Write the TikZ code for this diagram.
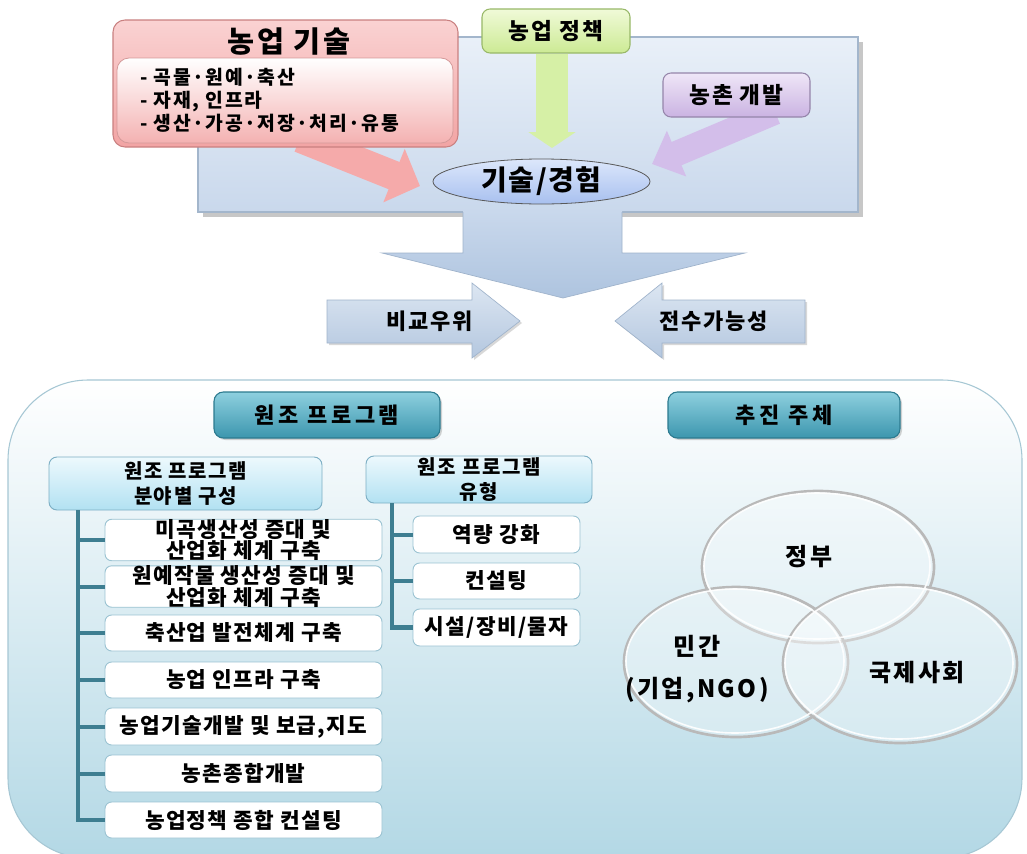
\documentclass[tikz,border=0pt]{standalone}
\usepackage{fontspec}
\setmainfont{Noto Sans CJK KR}
\usetikzlibrary{arrows.meta,shapes.geometric,shadows}
\pgfdeclarelayer{back}
\pgfdeclarelayer{mid}
\pgfsetlayers{back,mid,main}
\definecolor{panelT}{HTML}{E9F0F8}
\definecolor{panelB}{HTML}{C9D8EC}
\definecolor{panelD}{HTML}{A3B6CC}
\definecolor{pinkT}{HTML}{FAD2D2}
\definecolor{pinkB}{HTML}{F2A4A4}
\definecolor{pinkD}{HTML}{C98080}
\definecolor{pinkA}{HTML}{F5AAAA}
\definecolor{greenT}{HTML}{F0FAD8}
\definecolor{greenB}{HTML}{CCEA94}
\definecolor{greenD}{HTML}{98B868}
\definecolor{greenA}{HTML}{D6F0A6}
\definecolor{purpT}{HTML}{EFE6F7}
\definecolor{purpB}{HTML}{CAB3E2}
\definecolor{purpD}{HTML}{9585AA}
\definecolor{purpA}{HTML}{D3BEEA}
\definecolor{ellT}{HTML}{DCE7FB}
\definecolor{ellB}{HTML}{A8C0EF}
\definecolor{barT}{HTML}{C9D8EC}
\definecolor{barB}{HTML}{AEC4DF}
\definecolor{barD}{HTML}{9FB3CB}
\definecolor{sarT}{HTML}{DCE6F2}
\definecolor{sarB}{HTML}{B4C7DF}
\definecolor{btmB}{HTML}{B3D8E5}
\definecolor{btmD}{HTML}{A6C7D4}
\definecolor{hdrT}{HTML}{8ED0DF}
\definecolor{hdrB}{HTML}{3C96AE}
\definecolor{hdrD}{HTML}{2C7A8F}
\definecolor{thT}{HTML}{EDF9FD}
\definecolor{thB}{HTML}{B2E1F2}
\definecolor{thD}{HTML}{7DAFC4}
\definecolor{trunk}{HTML}{3E7E91}
\definecolor{itemD}{HTML}{9BC3D2}
\newcommand\kf[3]{\fontsize{#1}{#2}\selectfont\bfseries\addfontfeatures{LetterSpace=#3}}
\tikzset{
 sz/.style 2 args={minimum width=#1*0.75pt, minimum height=#2*0.75pt, inner sep=0pt},
 techbox/.style={draw=pinkD, line width=0.8pt, rounded corners=9pt, top color=pinkT, bottom color=pinkB},
 listbox/.style={draw=pinkD!80, line width=0.6pt, rounded corners=9pt, top color=white, bottom color=pinkB!85, align=left},
 greenbox/.style={draw=greenD, line width=0.8pt, rounded corners=6pt, top color=greenT, bottom color=greenB, font=\kf{17}{20}{8}},
 purpbox/.style={draw=purpD, line width=0.8pt, rounded corners=6pt, top color=purpT, bottom color=purpB, font=\kf{17}{20}{8}},
 expell/.style={ellipse, draw=black!65, line width=0.6pt, top color=ellT, bottom color=ellB, font=\kf{21}{24}{5}},
 barrow/.style={top color=barT, bottom color=barB},
 sarrow/.style={top color=sarT, bottom color=sarB, draw=barD, line width=0.5pt, drop shadow={opacity=0.3, shadow xshift=1.5pt, shadow yshift=-1.5pt}},
 stext/.style={font=\kf{16.5}{19}{8}},
 hdr/.style={draw=hdrD, rounded corners=7pt, top color=hdrT, bottom color=hdrB, line width=0.8pt, font=\kf{16.5}{19}{16}, drop shadow={opacity=0.35, shadow xshift=1.5pt, shadow yshift=-1.5pt}},
 thdr/.style={draw=thD, rounded corners=6pt, top color=thT, bottom color=thB, line width=0.7pt, align=center, font=\kf{15}{19}{8}},
 item/.style={draw=itemD, fill=white, rounded corners=5pt, line width=0.7pt, align=center, font=\kf{16}{13.5}{6}},
 trunkline/.style={draw=trunk, line width=3.5pt},
 branch/.style={draw=trunk, line width=3pt},
 glass/.style={ellipse, draw=gray!55, line width=2pt, fill=white, fill opacity=0.3},
 glassin/.style={ellipse, draw=white, line width=1.2pt, opacity=0.9},
 ctext/.style={font=\kf{18}{31.5}{10}, align=center},
}
\begin{document}
\begin{tikzpicture}[x=0.75pt,y=-0.75pt]
\useasboundingbox (0,0) rectangle (1027,853);
\clip (0,0) rectangle (1027,853);
\begin{pgfonlayer}{back}
 \fill[white] (0,0) rectangle (1027,853);
 \fill[black!22] (203,42) rectangle (863,217);
 \shade[top color=panelT,bottom color=panelB,draw=panelD,line width=.8pt] (198,37) rectangle (858,212);
 \shade[barrow] (463,211) -- (622,211) -- (622,253) -- (745,253) -- (563,298) -- (382,253) -- (463,253) -- cycle;
 \draw[barD,line width=.5pt] (463,212) -- (463,253) -- (382,253) -- (563,298) -- (745,253) -- (622,253) -- (622,212);
 \shade[top color=white, bottom color=btmB, draw=btmD, line width=.8pt, rounded corners=60pt] (8,380) rectangle (1022,858);
\end{pgfonlayer}

% top boxes
\node[techbox, sz={345}{127}] (tech) at (285.5,83.5) {};
\node[font=\kf{22}{24}{10}] (techtitle) at (289,42) {농업 기술};
\node[listbox, sz={336}{85}, text width=217.5pt, font=\kf{14.5}{17.3}{8}] (techlist) at (285,100.5) {- 곡물·원예·축산\\- 자재, 인프라\\- 생산·가공·저장·처리·유통};
\node[greenbox, sz={148}{44}] (policy) at (556,31) {농업 정책};
\node[purpbox, sz={147}{44}] (rural) at (736.5,95) {농촌 개발};
\node[expell, sz={217}{45}] (exp) at (541.5,181.5) {기술/경험};

\coordinate (redtail) at (300,138);
\coordinate (redtip) at (420,186);
\coordinate (greentip) at (552,148);
\coordinate (purptail) at (775,112);
\coordinate (purptip) at (652,164);
\begin{pgfonlayer}{mid}
 \draw[line width=22pt, draw=pinkA, -{Triangle[width=42pt,length=21pt]}] (redtail) -- (redtip);
 \draw[line width=24pt, draw=greenA, -{Triangle[width=35pt,length=12pt]}] (policy.south -| greentip) -- (greentip);
 \draw[line width=19pt, draw=purpA, -{Triangle[width=36pt,length=20pt]}] (purptail) -- (purptip);
\end{pgfonlayer}

% side arrows
\shade[sarrow] (327,300) -- (472,300) -- (472,283) -- (520,321) -- (472,358) -- (472,343) -- (327,343) -- cycle;
\shade[sarrow] (805,300) -- (662,300) -- (662,283) -- (615,321) -- (662,358) -- (662,343) -- (805,343) -- cycle;
\node[stext] (cmp) at (430,321) {비교우위};
\node[stext] (trans) at (714,321) {전수가능성};

% headers
\node[hdr, sz={226}{46}] (aidh) at (327,415) {원조 프로그램};
\node[hdr, sz={232}{46}] (acth) at (784,415) {추진 주체};

% tree 1
\node[thdr, sz={273}{53}] (fh) at (185.5,483.5) {원조 프로그램\\분야별 구성};
\node[item, sz={277}{36}] (i1) at (243.5,540) {미곡생산성 증대 및\\산업화 체계 구축};
\node[item, sz={277}{37}] (i2) at (243.5,586.5) {원예작물 생산성 증대 및\\산업화 체계 구축};
\node[item, sz={277}{36}] (i3) at (243.5,633) {축산업 발전체계 구축};
\node[item, sz={277}{36}] (i4) at (243.5,680) {농업 인프라 구축};
\node[item, sz={277}{37}] (i5) at (243.5,726.5) {농업기술개발 및 보급,지도};
\node[item, sz={277}{37}] (i6) at (243.5,773.5) {농촌종합개발};
\node[item, sz={277}{36}] (i7) at (243.5,820) {농업정책 종합 컨설팅};
\coordinate (ft) at (78,510);
\draw[trunkline] (fh.south -| ft) |- (i7.west);
\foreach \k in {1,...,6} \draw[branch] (ft |- i\k.west) -- (i\k.west);

% tree 2
\node[thdr, sz={226}{47}] (th) at (479,479.5) {원조 프로그램\\유형};
\node[item, sz={167}{37}] (j1) at (496.5,534.5) {역량 강화};
\node[item, sz={167}{36}] (j2) at (496.5,581) {컨설팅};
\node[item, sz={167}{37}] (j3) at (496.5,627.5) {시설/장비/물자};
\coordinate (tt) at (392,503);
\draw[trunkline] (th.south -| tt) |- (j3.west);
\foreach \k in {1,2} \draw[branch] (tt |- j\k.west) -- (j\k.west);

% circles
\node[glass, sz={232}{152}] (gov) at (818,567) {};
\node[glass, sz={224}{150}] (priv) at (736,662) {};
\node[glass, sz={234}{158}] (intl) at (900,664) {};
\node[glassin, sz={226}{146}] (govin) at (817,566) {};
\node[glassin, sz={218}{144}] (privin) at (735,661) {};
\node[glassin, sz={228}{152}] (intlin) at (899,663) {};
\node[ctext] (govt) at (809,557) {정부};
\node[ctext] (privt) at (697,669) {민간\\(기업,NGO)};
\node[ctext] (intlt) at (917,673) {국제사회};
\end{tikzpicture}
\end{document}
